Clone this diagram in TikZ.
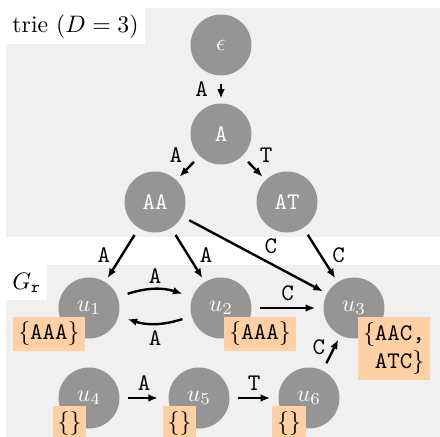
\documentclass[tikz,border=0pt]{standalone}
\usetikzlibrary{arrows.meta}
\definecolor{panelbg}{RGB}{240,240,240}
\definecolor{statefill}{RGB}{149,149,149}
\definecolor{setfill}{RGB}{255,208,164}
\begin{document}
\begin{tikzpicture}[x=0.42pt,y=0.42pt,
  state/.style={circle,fill=statefill,text=white,minimum size=25.6pt,inner sep=0pt,outer sep=2pt},
  setbox/.style={fill=setfill,inner sep=2.1pt},
  arr/.style={-{Latex[length=4pt,width=3.2pt]},line width=1pt,shorten <=1.5pt},
  lbl/.style={font=\ttfamily,inner sep=1.5pt},
  panellbl/.style={fill=white,anchor=north west,inner sep=2.5pt,minimum height=14.7pt}]
\useasboundingbox (0,0) rectangle (440,437);

% panels
\fill[panelbg] (6,200) rectangle (440,429);
\fill[panelbg] (6,0) rectangle (440,172);
\node[panellbl] (trielbl) at (6,429) {trie $(D=3)$};
\node[panellbl] (grlbl) at (6,172) {$G_{\mathtt{r}}$};

% trie
\node[state] (eps) at (221,392) {$\epsilon$};
\node[state] (a)   at (221,303) {\texttt{A}};
\node[state] (aa)  at (155,235) {\texttt{AA}};
\node[state] (at)  at (287,235) {\texttt{AT}};

% graph G_r
\node[state] (u1) at (89,129)  {$u_1$};
\node[state] (u2) at (221,129) {$u_2$};
\node[state] (u3) at (354,129) {$u_3$};
\node[state] (u4) at (89,39)   {$u_4$};
\node[state] (u5) at (199,39)  {$u_5$};
\node[state] (u6) at (309,39)  {$u_6$};

% trie edges
\draw[arr] (eps) -- node[lbl,left=3.5pt] {A} (a);
\draw[arr] (a) -- node[lbl,above left=0.5pt] {A} (aa);
\draw[arr] (a) -- node[lbl,above right=0.5pt] {T} (at);
\draw[arr] (aa) -- node[lbl,left=3pt] {A} (u1);
\draw[arr] (aa) -- node[lbl,right=3pt] {A} (u2);
\draw[arr] (aa) -- node[lbl,pos=0.62,above=2pt] {C} (u3);
\draw[arr] (at) -- node[lbl,right=3pt] {C} (u3);

% graph edges
\draw[arr,shorten >=1.5pt] ([yshift=5.5pt]u1.east) to[bend left=18] node[lbl,above=0.5pt] {A} ([yshift=5.5pt]u2.west);
\draw[arr,shorten >=1.5pt] ([yshift=-4.2pt]u2.west) to[bend left=18] node[lbl,below=1pt] {A} ([yshift=-4.2pt]u1.east);
\draw[arr,shorten >=1.5pt] (u2) -- node[lbl,above=1pt] {C} (u3);
\draw[arr,shorten >=2.5pt] (u4) -- node[lbl,above=1pt] {A} (u5);
\draw[arr,shorten >=1.5pt] (u5) -- node[lbl,above=1pt] {T} (u6);
\draw[arr] (u6) -- node[lbl,pos=0.55,left=1pt,yshift=2pt] {C} (u3);

% sets attached to the states
\node[setbox] (s1) at (49,103)  {$\{$\texttt{AAA}$\}$};
\node[setbox] (s2) at (260,103) {$\{$\texttt{AAA}$\}$};
\node[setbox,align=left] (s3) at (394,88.5) {$\{$\texttt{AAC,}\\\phantom{$\{$}\texttt{ATC}$\}$};
\node[setbox,anchor=north] (s4) at (69.5,31) {$\{\}$};
\node[setbox,anchor=north] (s5) at (179.5,31) {$\{\}$};
\node[setbox,anchor=north] (s6) at (289,31) {$\{\}$};
\end{tikzpicture}
\end{document}
